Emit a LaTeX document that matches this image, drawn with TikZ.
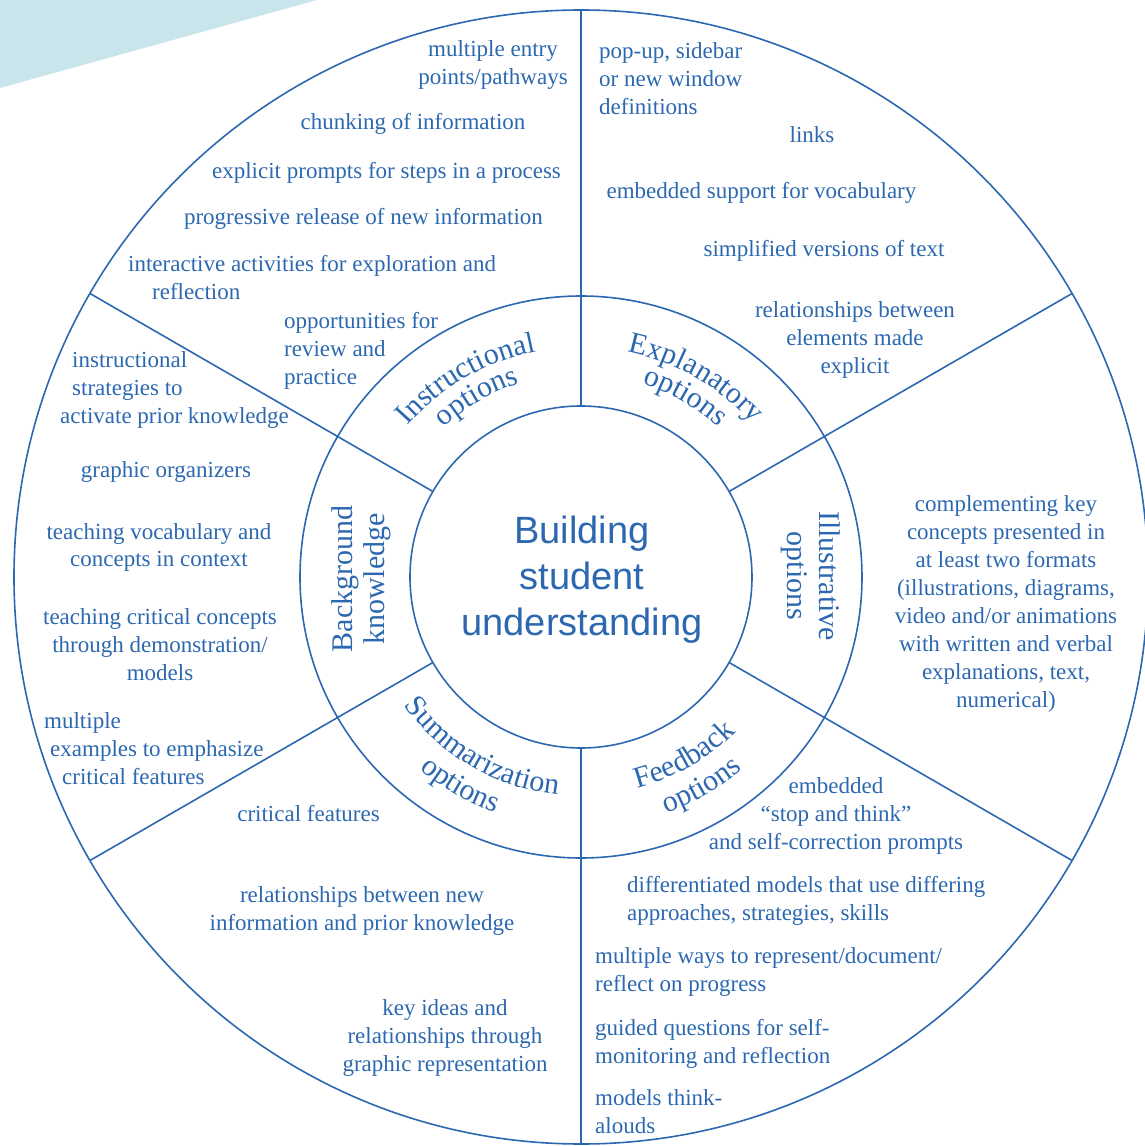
\documentclass[tikz,border=0pt]{standalone}
\usepackage{fontspec}
\setmainfont{Liberation Serif}
\newfontfamily\sansf{Liberation Sans}
\usetikzlibrary{decorations.text}
\definecolor{ink}{RGB}{44,104,176}
\definecolor{paleteal}{RGB}{200,229,235}
\newcommand\ringfont{\fontsize{30}{32}\selectfont}
\tikzset{
  item/.style={font=\fontsize{23}{28}\selectfont, text=ink, inner sep=0pt},
  ctr/.style={item, align=center, anchor=base},
  lft/.style={item, align=left, anchor=base west},
  ring/.style={font=\ringfont, text=ink, inner sep=0pt, align=center},
  wheel/.style={draw=ink, line width=1.6pt},
  arctext/.style={decorate, decoration={text along path, text={|\ringfont|#1}, text align=center, text color=ink}}
}
\begin{document}
\begin{tikzpicture}[x=1pt,y=1pt]
\clip (-581,-569) rectangle (564,577);
% corner band
\fill[paleteal] (-581,577) -- (-264,577) -- (-581,489) -- cycle;
% wheel
\draw[wheel] (0,0) circle[radius=567];
\draw[wheel] (0,0) circle[radius=281];
\draw[wheel] (0,0) circle[radius=171];
\foreach \a in {30,90,150,210,270,330}
  \draw[wheel] (\a:171) -- (\a:567);
% centre (anchor base = last line)
\node[font=\sansf\fontsize{38}{46}\selectfont, text=ink, align=center, anchor=base, inner sep=0pt] (core) at (1,-58) {Building\\student\\understanding};
% ring labels
\path[arctext=Instructional] (150:230) arc[start angle=150, end angle=90, radius=230];
\path[arctext=options] (150:203) arc[start angle=150, end angle=90, radius=203];
\path[arctext=Explanatory] (90:230) arc[start angle=90, end angle=30, radius=230];
\path[arctext=options] (90:203) arc[start angle=90, end angle=30, radius=203];
\path[arctext=Feedback] (-90:219) arc[start angle=-90, end angle=-30, radius=219];
\path[arctext=options] (-90:251) arc[start angle=-90, end angle=-30, radius=251];
\path[arctext=Summarization] (-150:219) arc[start angle=-150, end angle=-90, radius=219];
\path[arctext=options] (-150:251) arc[start angle=-150, end angle=-90, radius=251];
\node[ring, rotate=90] (bg) at (-220,-2) {Background\\knowledge};
\node[ring, rotate=-90] (il) at (230,1) {Illustrative\\options};
% instructional sector (anchor base = baseline of the last line)
\node[ctr] (n1) at (-88,492) {multiple entry\\points/pathways};
\node[ctr] (n2) at (-168,447) {chunking of information};
\node[ctr] (n3) at (-194.5,398) {explicit prompts for steps in a process};
\node[ctr] (n4) at (-217.5,352) {progressive release of new information};
\node[lft] (n5) at (-453,277) {interactive activities for exploration and\\\hspace*{24pt}reflection};
\node[lft] (n6) at (-297,192) {opportunities for\\review and\\practice};
% explanatory sector
\node[lft] (n7) at (18,462) {pop-up, sidebar\\or new window\\definitions};
\node[ctr] (n8) at (231,434) {links};
\node[ctr] (n9) at (180.5,378) {embedded support for vocabulary};
\node[ctr] (n10) at (243,320) {simplified versions of text};
\node[ctr] (n11) at (274,203) {relationships between\\elements made\\explicit};
% illustrative sector
\node[ctr] (n12) at (425,-130) {complementing key\\concepts presented in\\at least two formats\\(illustrations, diagrams,\\video and/or animations\\with written and verbal\\explanations, text,\\numerical)};
% feedback sector
\node[ctr] (n13) at (255,-272) {embedded\\“stop and think”\\and self-correction prompts};
\node[lft] (n14) at (46,-343) {differentiated models that use differing\\approaches, strategies, skills};
\node[lft] (n15) at (14,-414) {multiple ways to represent/document/\\reflect on progress};
\node[lft] (n16) at (14,-486) {guided questions for self-\\monitoring and reflection};
\node[lft] (n17) at (14,-556) {models think-\\alouds};
% summarization sector
\node[ctr] (n18) at (-272.5,-244) {critical features};
\node[ctr] (n19) at (-219,-353) {relationships between new\\information and prior knowledge};
\node[ctr] (n20) at (-136,-494) {key ideas and\\relationships through\\graphic representation};
% background sector
\node[lft] (n21) at (-521,153) {\hspace*{12pt}instructional\\\hspace*{12pt}strategies to\\activate prior knowledge};
\node[ctr] (n22) at (-415,99) {graphic organizers};
\node[ctr] (n23) at (-422,10) {teaching vocabulary and\\concepts in context};
\node[ctr] (n24) at (-421,-103) {teaching critical concepts\\through demonstration/\\models};
\node[lft] (n25) at (-537,-207) {multiple\\\hspace*{6pt}examples to emphasize\\\hspace*{18pt}critical features};
\end{tikzpicture}
\end{document}
